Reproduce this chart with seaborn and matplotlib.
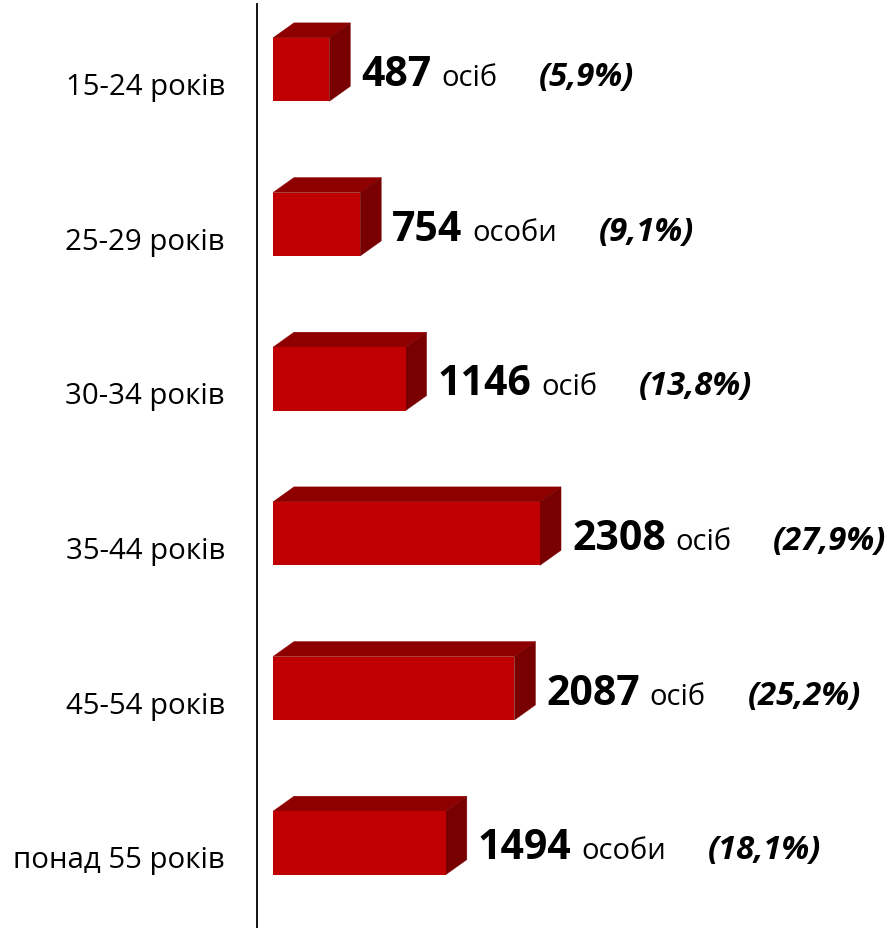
import matplotlib
matplotlib.use("Agg")
import matplotlib.pyplot as plt
from matplotlib.patches import Polygon
import seaborn as sns
import numpy as np
import pandas as pd

categories = ["15-24 років", "25-29 років", "30-34 років", "35-44 років", "45-54 років", "понад 55 років"]
values = [487, 754, 1146, 2308, 2087, 1494]
units = ["осіб", "особи", "осіб", "осіб", "осіб", "особи"]
percents = ["(5,9%)", "(9,1%)", "(13,8%)", "(27,9%)", "(25,2%)", "(18,1%)"]

FRONT = "#C00000"
TOP = "#8E0000"
SIDE = "#780000"

sns.set_style("white")
plt.rcParams["font.family"] = ["Open Sans", "DejaVu Sans"]

W, H, DPI = 892, 929, 100
fig = plt.figure(figsize=(W / DPI, H / DPI), dpi=DPI)
ax = fig.add_axes([257 / W, 0, (W - 257) / W, (H - 5) / H])

df = pd.DataFrame({"group": categories, "value": values})
sns.barplot(data=df, x="value", y="group", orient="h", color=FRONT,
            width=0.41, ax=ax, saturation=1)

ax.set_xlim(-138, 5350)
ax.set_ylim(5.55, -0.424)
ax.set_xticks([])
ax.set_yticks([])
ax.set_xlabel("")
ax.set_ylabel("")
for s in ["top", "right", "bottom"]:
    ax.spines[s].set_visible(False)
ax.spines["left"].set_color("black")
ax.spines["left"].set_linewidth(1.3)

# depth of 3D faces in data units (21 px right, 15 px up)
p0 = ax.transData.transform((0, 0))
p1 = ax.transData.transform((1, 1))
px_x = p1[0] - p0[0]
px_y = abs(p1[1] - p0[1])
dx = 21 / px_x
dy = 15 / px_y

for p in list(ax.patches):
    x0, y0, w, h = p.get_x(), p.get_y(), p.get_width(), p.get_height()
    ytop, ybot = min(y0, y0 + h), max(y0, y0 + h)
    p.set_edgecolor("none")
    top = Polygon([(x0, ytop), (x0 + w, ytop), (x0 + w + dx, ytop - dy), (x0 + dx, ytop - dy)],
                  closed=True, facecolor=TOP, edgecolor=TOP, linewidth=0.3)
    side = Polygon([(x0 + w, ytop), (x0 + w + dx, ytop - dy), (x0 + w + dx, ybot - dy), (x0 + w, ybot)],
                   closed=True, facecolor=SIDE, edgecolor=SIDE, linewidth=0.3)
    ax.add_patch(top)
    ax.add_patch(side)
    p.set_zorder(3)

for i, (cat, v, u, pc) in enumerate(zip(categories, values, units, percents)):
    ax.annotate(cat, xy=(0, i), xycoords=("axes fraction", "data"),
                xytext=(-23, -17.6), textcoords="offset points",
                ha="right", va="baseline", fontsize=21.2, color="black")
    t_num = ax.annotate(str(v), xy=(v, i), xycoords="data",
                        xytext=(23, -11), textcoords="offset points",
                        ha="left", va="baseline", fontsize=29.5, fontweight="bold", color="black")
    t_unit = ax.annotate(u, xy=(1, i), xycoords=(t_num, "data"),
                         xytext=(7, -11), textcoords="offset points",
                         ha="left", va="baseline", fontsize=21, color="black")
    ax.annotate(pc, xy=(1, i), xycoords=(t_unit, "data"),
                xytext=(30, -11), textcoords="offset points",
                ha="left", va="baseline", fontsize=23.6, fontweight="bold",
                fontstyle="italic", color="black")

fig.savefig("out.png", dpi=DPI)
